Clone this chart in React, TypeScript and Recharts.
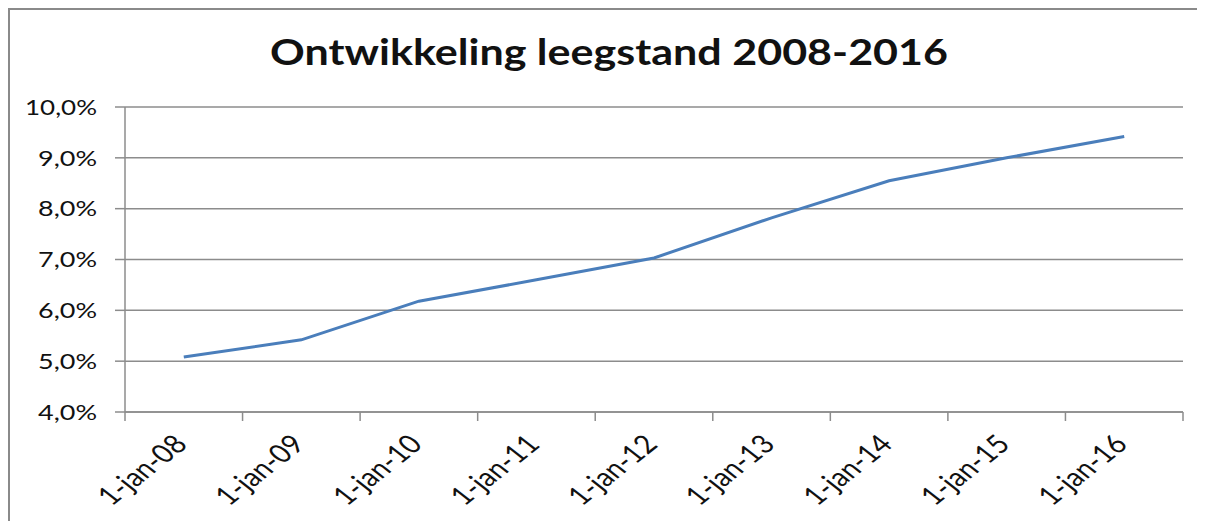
import React from 'react';
import { LineChart, Line, XAxis, YAxis, CartesianGrid } from 'recharts';

const title = 'Ontwikkeling leegstand 2008-2016';
const categories = ['1-jan-08', '1-jan-09', '1-jan-10', '1-jan-11', '1-jan-12', '1-jan-13', '1-jan-14', '1-jan-15', '1-jan-16'];
const vacancy = [5.08, 5.42, 6.18, 6.6, 7.03, 7.82, 8.55, 9.0, 9.42];
const yTicks = [4, 5, 6, 7, 8, 9, 10];
const boundaryTicks = [0, 1, 2, 3, 4, 5, 6, 7, 8, 9];

const data = categories.map((cat, i) => ({ cat, pos: i + 0.5, value: vacancy[i] }));

const FONT = 'Lato, "Open Sans", sans-serif';
const GRID = '#8c8c8c';

const fmtPct = (v: number) => v.toFixed(1).replace('.', ',') + '%';

const XLabel = (props: any) => {
  const { x, y, payload } = props;
  return (
    <g transform={`translate(${x + 5},${y}) scale(1.27,1) rotate(-45)`}>
      <text
        textAnchor="end"
        textLength={86}
        lengthAdjust="spacingAndGlyphs"
        fontFamily={FONT}
        fontSize={26}
        fill="#111"
      >
        {payload.value}
      </text>
    </g>
  );
};

const YLabel = (props: any) => {
  const { x, y, payload } = props;
  const label = fmtPct(payload.value);
  return (
    <text
      x={x}
      y={y}
      textAnchor="end"
      dy="0.35em"
      textLength={13 * label.length + 7}
      lengthAdjust="spacingAndGlyphs"
      fontFamily={FONT}
      fontSize={22}
      fill="#111"
    >
      {label}
    </text>
  );
};

const Empty = () => <g />;

export default function App() {
  return (
    <div
      style={{
        position: 'relative',
        width: 1197,
        height: 513,
        borderTop: '2px solid #8a8a8a',
        borderLeft: '2px solid #8a8a8a',
        boxSizing: 'border-box',
        background: '#fff',
      }}
    >
      <div style={{ position: 'absolute', left: -2, top: -2 }}>
        <LineChart width={1197} height={513} data={data} margin={{ top: 99, right: 22, bottom: 9, left: 17 }}>
          <CartesianGrid horizontal vertical={false} stroke={GRID} strokeWidth={1.5} xAxisId="b" />
          <XAxis
            xAxisId="a"
            dataKey="pos"
            type="number"
            domain={[0, 9]}
            allowDataOverflow
            ticks={boundaryTicks}
            height={1}
            tickSize={9}
            tick={<Empty />}
            axisLine={{ stroke: GRID, strokeWidth: 1.5 }}
            tickLine={{ stroke: GRID, strokeWidth: 1.5 }}
          />
          <XAxis
            xAxisId="b"
            dataKey="cat"
            scale="band"
            height={99}
            interval={0}
            tickLine={false}
            axisLine={false}
            tickSize={0}
            tickMargin={33}
            tick={<XLabel />}
          />
          <YAxis
            domain={[4, 10]}
            ticks={yTicks}
            width={100}
            tickSize={10}
            tickMargin={18}
            tick={<YLabel />}
            axisLine={{ stroke: GRID, strokeWidth: 1.5 }}
            tickLine={{ stroke: GRID, strokeWidth: 1.5 }}
            allowDataOverflow
          />
          <Line
            xAxisId="b"
            type="linear"
            dataKey="value"
            stroke="#4a7ebb"
            strokeWidth={3}
            dot={false}
            isAnimationActive={false}
          />
        </LineChart>
      </div>
      <svg style={{ position: 'absolute', left: -2, top: -2 }} width={1197} height={90}>
        <text
          x={601}
          y={57}
          textAnchor="middle"
          textLength={678}
          lengthAdjust="spacingAndGlyphs"
          fontFamily={FONT}
          fontWeight={700}
          fontSize={36}
          fill="#111"
        >
          {title}
        </text>
      </svg>
    </div>
  );
}
